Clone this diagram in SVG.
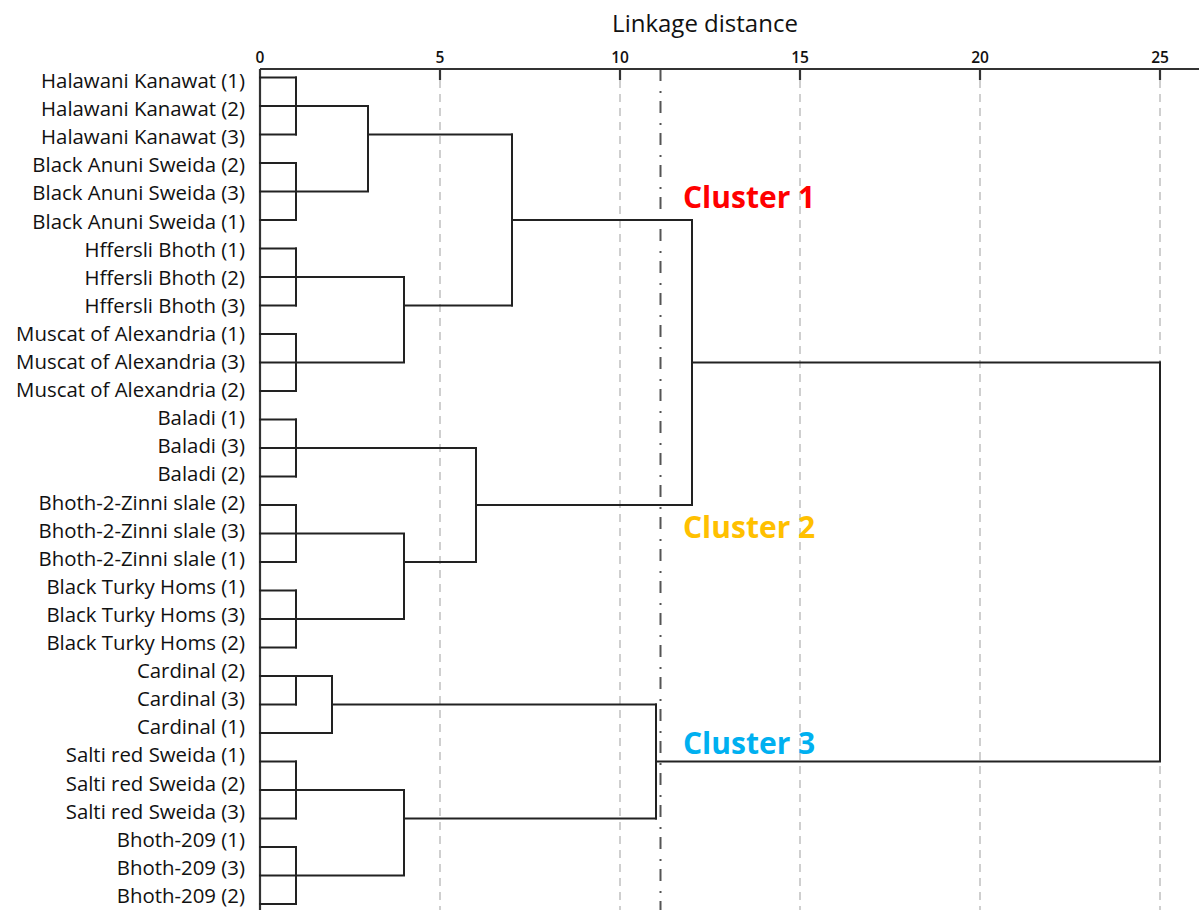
<svg xmlns="http://www.w3.org/2000/svg" width="1199" height="910" viewBox="0 0 1199 910">
<style>
.lbl{font-family:"Open Sans","Liberation Sans",sans-serif;font-size:20.4px;fill:#111;text-anchor:end}
.tick{font-family:"Open Sans","Liberation Sans",sans-serif;font-size:15.5px;font-weight:600;fill:#111;text-anchor:middle}
.title{font-family:"Open Sans","Liberation Sans",sans-serif;font-size:24px;fill:#111;text-anchor:middle}
.cl{font-family:"Open Sans","Liberation Sans",sans-serif;font-size:30px;font-weight:bold}
.grid{stroke:#cfcfcf;stroke-width:2;stroke-dasharray:8 6;fill:none}
.cut{stroke:#555;stroke-width:2;stroke-dasharray:12 10 2 8;fill:none}
.ax{stroke:#333;stroke-width:2.2;fill:none}
.den{stroke:#222;stroke-width:2;fill:none;stroke-linecap:square}
</style>
<rect width="1199" height="910" fill="#fff"/>
<g id="grid">
<path class="grid" d="M440,80V910M620,80V910M800,80V910M980,80V910M1160,80V910"/>
<path class="cut" d="M660.5,69V910"/>
</g>
<g id="axis">
<path class="ax" d="M260,69H1199M260,69V910M440,69V80M620,69V80M800,69V80M980,69V80M1160,69V80"/>
<text class="tick" x="260" y="63">0</text>
<text class="tick" x="440" y="63">5</text>
<text class="tick" x="620" y="63">10</text>
<text class="tick" x="800" y="63">15</text>
<text class="tick" x="980" y="63">20</text>
<text class="tick" x="1160" y="63">25</text>
<text class="title" x="705" y="32">Linkage distance</text>
</g>
<g id="connectors">
<path class="den" d="M260,77.5H296M260,106H296M260,134.5H296M260,163H296M260,191.5H296M260,220H296M260,248.5H296M260,277H296M260,305.5H296M260,334H296M260,362.5H296M260,391H296M260,419.5H296M260,448H296M260,476.5H296M260,505H296M260,533.5H296M260,562H296M260,590.5H296M260,619H296M260,647.5H296M260,676H296M260,704.5H296M260,733H332M260,761.5H296M260,790H296M260,818.5H296M260,847H296M260,875.5H296M260,904H296"/>
<path class="den" d="M296,77.5V134.5M296,163V220M296,248.5V305.5M296,334V391M296,419.5V476.5M296,505V562M296,590.5V647.5M296,676V704.5M296,761.5V818.5M296,847V904"/>
<path class="den" d="M296,106H368M296,191.5H368M368,106V191.5M368,134.5H512"/>
<path class="den" d="M296,277H404M296,362.5H404M404,277V362.5M404,305.5H512"/>
<path class="den" d="M512,134.5V305.5M512,220H692"/>
<path class="den" d="M296,448H476M296,533.5H404M296,619H404M404,533.5V619M404,562H476M476,448V562M476,505H692"/>
<path class="den" d="M692,220V505M692,362.5H1160"/>
<path class="den" d="M296,676H332M332,676V733M332,704.5H656"/>
<path class="den" d="M296,790H404M296,875.5H404M404,790V875.5M404,818.5H656"/>
<path class="den" d="M656,704.5V818.5M656,761.5H1160M1160,362.5V761.5"/>
</g>
<g id="leaf-0"><text class="lbl" x="245" y="88">Halawani Kanawat (1)</text></g>
<g id="leaf-1"><text class="lbl" x="245" y="116.1">Halawani Kanawat (2)</text></g>
<g id="leaf-2"><text class="lbl" x="245" y="144.2">Halawani Kanawat (3)</text></g>
<g id="leaf-3"><text class="lbl" x="245" y="172.3">Black Anuni Sweida (2)</text></g>
<g id="leaf-4"><text class="lbl" x="245" y="200.4">Black Anuni Sweida (3)</text></g>
<g id="leaf-5"><text class="lbl" x="245" y="228.5">Black Anuni Sweida (1)</text></g>
<g id="leaf-6"><text class="lbl" x="245" y="256.6">Hffersli Bhoth (1)</text></g>
<g id="leaf-7"><text class="lbl" x="245" y="284.7">Hffersli Bhoth (2)</text></g>
<g id="leaf-8"><text class="lbl" x="245" y="312.8">Hffersli Bhoth (3)</text></g>
<g id="leaf-9"><text class="lbl" x="245" y="340.9">Muscat of Alexandria (1)</text></g>
<g id="leaf-10"><text class="lbl" x="245" y="369">Muscat of Alexandria (3)</text></g>
<g id="leaf-11"><text class="lbl" x="245" y="397.1">Muscat of Alexandria (2)</text></g>
<g id="leaf-12"><text class="lbl" x="245" y="425.2">Baladi (1)</text></g>
<g id="leaf-13"><text class="lbl" x="245" y="453.3">Baladi (3)</text></g>
<g id="leaf-14"><text class="lbl" x="245" y="481.4">Baladi (2)</text></g>
<g id="leaf-15"><text class="lbl" x="245" y="509.5">Bhoth-2-Zinni slale (2)</text></g>
<g id="leaf-16"><text class="lbl" x="245" y="537.6">Bhoth-2-Zinni slale (3)</text></g>
<g id="leaf-17"><text class="lbl" x="245" y="565.7">Bhoth-2-Zinni slale (1)</text></g>
<g id="leaf-18"><text class="lbl" x="245" y="593.8">Black Turky Homs (1)</text></g>
<g id="leaf-19"><text class="lbl" x="245" y="621.9">Black Turky Homs (3)</text></g>
<g id="leaf-20"><text class="lbl" x="245" y="650">Black Turky Homs (2)</text></g>
<g id="leaf-21"><text class="lbl" x="245" y="678.1">Cardinal (2)</text></g>
<g id="leaf-22"><text class="lbl" x="245" y="706.2">Cardinal (3)</text></g>
<g id="leaf-23"><text class="lbl" x="245" y="734.3">Cardinal (1)</text></g>
<g id="leaf-24"><text class="lbl" x="245" y="762.4">Salti red Sweida (1)</text></g>
<g id="leaf-25"><text class="lbl" x="245" y="790.5">Salti red Sweida (2)</text></g>
<g id="leaf-26"><text class="lbl" x="245" y="818.6">Salti red Sweida (3)</text></g>
<g id="leaf-27"><text class="lbl" x="245" y="846.7">Bhoth-209 (1)</text></g>
<g id="leaf-28"><text class="lbl" x="245" y="874.8">Bhoth-209 (3)</text></g>
<g id="leaf-29"><text class="lbl" x="245" y="902.9">Bhoth-209 (2)</text></g>
<g id="cluster-1"><text class="cl" x="683" y="208" fill="#ff0000">Cluster 1</text></g>
<g id="cluster-2"><text class="cl" x="683" y="538" fill="#ffc000">Cluster 2</text></g>
<g id="cluster-3"><text class="cl" x="683" y="754" fill="#00b0f0">Cluster 3</text></g>
</svg>
